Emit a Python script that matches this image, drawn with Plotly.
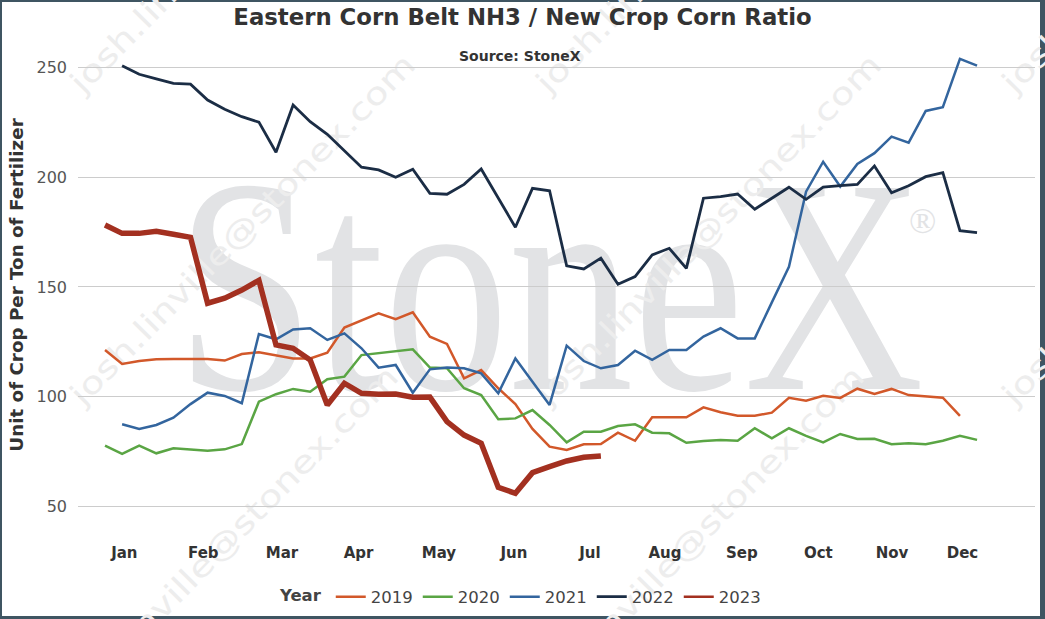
import base64
import plotly.graph_objects as go

# weekly NH3 / new crop corn ratio
years = ["2019", "2020", "2021", "2022", "2023"]
start_week = {"2019": 0, "2020": 0, "2021": 1, "2022": 1, "2023": 0}

ratio_2019 = [121.3, 115.0, 116.3, 117.1, 117.2, 117.2, 117.2, 116.5, 119.5, 120.3,
              119.0, 117.5, 117.5, 120.1, 131.5, 134.7, 138.0, 135.3, 138.5, 127.4,
              124.1, 108.4, 112.2, 103.9, 96.7, 85.4, 77.3, 75.8, 78.4, 78.5,
              83.7, 80.0, 90.7, 90.7, 90.7, 95.2, 93.0, 91.4, 91.4, 92.8,
              99.6, 98.2, 100.5, 99.5, 103.7, 101.3, 103.6, 100.8, 100.1, 99.6, 91.3]
ratio_2020 = [77.8, 74.0, 77.8, 74.3, 76.6, 76.1, 75.5, 76.1, 78.5, 97.8,
              101.2, 103.6, 102.3, 108.0, 109.2, 119.0, 119.8, 120.8, 121.6, 113.3,
              113.0, 103.9, 100.8, 89.8, 90.2, 94.0, 87.2, 79.3, 84.1, 84.1,
              86.7, 87.5, 83.7, 83.4, 79.1, 79.9, 80.4, 80.0, 85.7, 81.1,
              85.7, 82.2, 79.3, 83.1, 80.8, 80.9, 78.4, 78.9, 78.4, 80.0, 82.3, 80.4]
ratio_2021 = [87.5, 85.4, 87.2, 90.5, 96.7, 101.9, 100.4, 97.1, 128.6, 126.2,
              130.7, 131.2, 125.9, 128.9, 122.1, 113.3, 114.5, 101.9, 112.5, 113.4,
              113.0, 110.7, 101.6, 117.5, 106.9, 96.3, 123.3, 116.3, 113.0, 114.5,
              121.0, 116.8, 121.3, 121.3, 127.4, 131.2, 126.6, 126.6, 143.0, 159.2,
              193.4, 207.0, 195.7, 206.0, 210.9, 218.4, 215.7, 230.1, 231.8, 253.8, 250.7]
ratio_2022 = [250.7, 246.8, 244.7, 242.7, 242.3, 235.1, 230.9, 227.5, 225.0, 211.3,
              232.8, 225.2, 219.5, 211.9, 204.5, 203.3, 199.9, 203.6, 192.6, 192.2,
              196.7, 203.7, 190.4, 177.2, 194.9, 193.8, 159.6, 158.2, 163.1, 151.2,
              154.7, 164.6, 167.6, 158.5, 190.4, 191.1, 192.3, 185.4, 190.4, 195.4,
              189.9, 195.4, 196.1, 196.7, 205.1, 192.9, 196.1, 200.2, 202.0, 175.6, 174.7]
ratio_2023 = [178.2, 174.4, 174.4, 175.3, 174.0, 172.6, 142.6, 144.9, 148.6, 153.0,
              123.6, 122.1, 116.8, 96.3, 106.2, 101.6, 101.2, 101.3, 99.8, 99.9,
              88.7, 82.6, 78.9, 58.8, 56.1, 65.5, 68.2, 70.8, 72.5, 73.1]

months = ["Jan", "Feb", "Mar", "Apr", "May", "Jun", "Jul", "Aug", "Sep", "Oct", "Nov", "Dec"]
month_ticks = [1.13, 5.75, 10.35, 14.83, 19.53, 23.92, 28.36, 32.75, 37.25, 41.72, 46.03, 50.15]
y_ticks = [50, 100, 150, 200, 250]

series = dict(zip(years, [ratio_2019, ratio_2020, ratio_2021, ratio_2022, ratio_2023]))
colors = {"2019": "#d2582a", "2020": "#5aa544", "2021": "#33659e",
          "2022": "#1b2d45", "2023": "#a33020"}
widths = {"2019": 2.5, "2020": 2.5, "2021": 2.5, "2022": 2.8, "2023": 5.5}

# watermark + frame as an svg drawn below the plot
W, H = 1045, 619
mail = "josh.linville@stonex.com"
marks = ""
for dx in [0, 466, 932]:
    for x, y in [(83, 95), (83, 407), (66, 719)]:
        marks += ('<text x="%d" y="%d" transform="rotate(-45.5 %d %d)" font-family="DejaVu Sans" '
                  'font-size="31" fill="#ededed" textLength="477" lengthAdjust="spacingAndGlyphs">%s</text>'
                  % (x + dx, y, x + dx, y, mail))
svg = ('<svg xmlns="http://www.w3.org/2000/svg" width="%d" height="%d">' % (W, H)
       + '<rect width="%d" height="%d" fill="#3f5562"/>' % (W, H)
       + '<rect x="2" y="2" width="1038" height="614" fill="#ffffff"/>'
       + '<text x="176" y="389" font-family="Liberation Serif" font-size="307" fill="#e2e3e5" '
         'textLength="748" lengthAdjust="spacingAndGlyphs">StoneX</text>'
       + '<text x="909" y="233" font-family="Liberation Serif" font-size="36" fill="#e2e3e5">&#174;</text>'
       + marks + '</svg>')
svg_uri = "data:image/svg+xml;base64," + base64.b64encode(svg.encode("utf-8")).decode()

fig = go.Figure()
for yr in years:
    vals = series[yr]
    fig.add_trace(go.Scatter(
        x=[start_week[yr] + i for i in range(len(vals))], y=vals,
        mode="lines", name=yr, legendgroup=yr, showlegend=(yr != "2023"),
        line=dict(color=colors[yr], width=widths[yr]),
        hoverinfo="skip"))
# thin legend swatch for 2023 (the plotted line is thick)
fig.add_trace(go.Scatter(x=[None], y=[None], mode="lines", name="2023", legendgroup="2023",
                         line=dict(color=colors["2023"], width=2.5), hoverinfo="skip"))

ml, mr, mt, mb = 78, 10, 40, 89
pw, ph = W - ml - mr, H - mt - mb

fig.add_layout_image(dict(
    source=svg_uri, xref="paper", yref="paper",
    x=-ml / pw, y=1 + mt / ph, sizex=W / pw, sizey=H / ph,
    xanchor="left", yanchor="top", sizing="stretch", layer="below"))

fig.add_annotation(text="<b>Source: StoneX</b>", xref="paper", yref="paper",
                   x=(520 - ml) / pw, y=(H - mb - 46) / ph, showarrow=False,
                   font=dict(size=14, color="#333333"))

fig.update_layout(
    width=W, height=H,
    margin=dict(l=ml, r=mr, t=mt, b=mb, autoexpand=False),
    paper_bgcolor="white", plot_bgcolor="rgba(0,0,0,0)",
    font=dict(family="DejaVu Sans", color="#333333"),
    title=dict(text="<b>Eastern Corn Belt NH3 / New Crop Corn Ratio</b>",
               xref="container", x=0.5, xanchor="center",
               yref="container", y=1 - 17 / H, yanchor="middle",
               font=dict(size=22.8, color="#333333")),
    xaxis=dict(range=[-1.58, 54.39], tickvals=month_ticks, ticktext=months,
               showgrid=False, zeroline=False, showline=False, ticks="",
               ticklabelstandoff=12, automargin=False,
               tickfont=dict(size=15, color="#333333", weight="bold")),
    yaxis=dict(range=[39.4, 262.4], tickvals=y_ticks, showgrid=True,
               gridcolor="#cccccc", gridwidth=1, zeroline=False, showline=False,
               ticks="", ticklabelstandoff=10, automargin=False,
               tickfont=dict(size=16, color="#555555"),
               title=dict(text="<b>Unit of Crop Per Ton of Fertilizer</b>", standoff=8,
                          font=dict(size=18.3, color="#333333"))),
    legend=dict(orientation="h", x=(278 - ml) / pw, xanchor="left",
                y=(H - mb - 597) / ph, yanchor="middle",
                title=dict(text="<b>Year</b>", font=dict(size=16.5, color="#444444")),
                font=dict(size=16.5, color="#444444"),
                bgcolor="rgba(0,0,0,0)"),
    showlegend=True,
)

fig.write_html("out.html", config={"displayModeBar": False},
               post_script="document.body.style.margin='0';")
